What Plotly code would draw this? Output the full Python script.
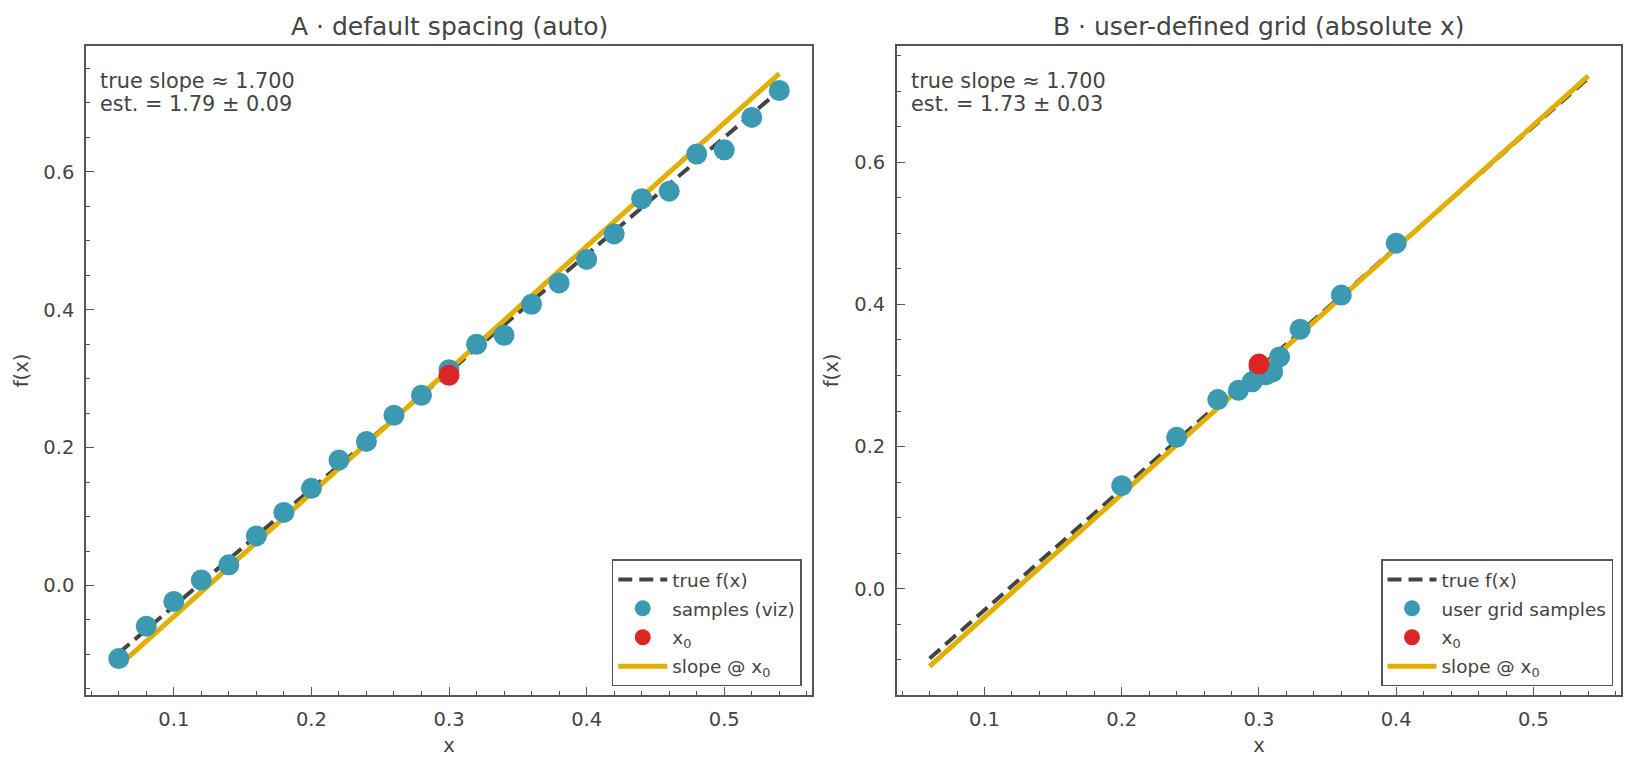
import plotly.graph_objects as go

# ---------------- data ----------------
x_true = [0.06, 0.30, 0.54]
y_true = [-0.098, 0.310, 0.718]

x0 = 0.30

# panel A: default spacing samples
xa = [0.06, 0.08, 0.10, 0.12, 0.14, 0.16, 0.18, 0.20, 0.22, 0.24, 0.26, 0.28, 0.30,
      0.32, 0.34, 0.36, 0.38, 0.40, 0.42, 0.44, 0.46, 0.48, 0.50, 0.52, 0.54]
ya = [-0.106, -0.059, -0.023, 0.008, 0.030, 0.072, 0.106, 0.141, 0.182, 0.209, 0.247, 0.276, 0.313,
      0.350, 0.363, 0.408, 0.439, 0.473, 0.510, 0.561, 0.572, 0.626, 0.632, 0.679, 0.718]
ya_x0 = 0.305
slope_a = 1.79
icpt_a = 0.313

# panel B: user-defined grid samples
xb = [0.20, 0.24, 0.27, 0.285, 0.295, 0.30, 0.305, 0.31, 0.315, 0.33, 0.36, 0.40]
yb = [0.145, 0.213, 0.266, 0.279, 0.291, 0.312, 0.301, 0.305, 0.326, 0.365, 0.413, 0.486]
yb_x0 = 0.316
slope_b = 1.73
icpt_b = 0.306

slope_x = [0.06, 0.54]

titles = ["A · default spacing (auto)", "B · user-defined grid (absolute x)"]
notes_a = ["true slope ≈ 1.700", "est. = 1.79 ± 0.09"]
notes_b = ["true slope ≈ 1.700", "est. = 1.73 ± 0.03"]
sample_names = ["samples (viz)", "user grid samples"]

# ---------------- style ----------------
FONT = "DejaVu Sans"
TXT = "#444444"
SPINE = "#555555"
TEAL = "#3B9AB2"
RED = "#DC2626"
GOLD = "#E1AF00"
DARK = "#444444"

fig = go.Figure()

panels = [
    ("x", "y", "legend", xa, ya, ya_x0, slope_a, icpt_a, sample_names[0]),
    ("x2", "y2", "legend2", xb, yb, yb_x0, slope_b, icpt_b, sample_names[1]),
]

for xr, yr, lg, xs, ys, yx0, sl, ic, sname in panels:
    fig.add_trace(go.Scatter(x=x_true, y=y_true, mode="lines", name="true f(x)",
                             line=dict(color=DARK, width=4, dash="14px,7px"),
                             xaxis=xr, yaxis=yr, legend=lg, legendrank=1,
                             legendgroup=lg + "_true"))
    sy = [ic + sl * (v - x0) for v in slope_x]
    fig.add_trace(go.Scatter(x=slope_x, y=sy, mode="lines", name="slope @ x<sub>0</sub>",
                             line=dict(color=GOLD, width=5),
                             xaxis=xr, yaxis=yr, legend=lg, legendrank=4,
                             legendgroup=lg + "_slope"))
    fig.add_trace(go.Scatter(x=xs, y=ys, mode="markers", name=sname,
                             marker=dict(color=TEAL, size=21, line=dict(width=0)),
                             xaxis=xr, yaxis=yr, legend=lg, legendrank=2,
                             legendgroup=lg + "_samples"))
    fig.add_trace(go.Scatter(x=[x0], y=[yx0], mode="markers", name="x<sub>0</sub>",
                             marker=dict(color=RED, size=21, line=dict(width=0)),
                             xaxis=xr, yaxis=yr, legend=lg, legendrank=3,
                             legendgroup=lg + "_x0"))

TICKFONT = dict(family=FONT, size=19.5, color=TXT)
axis_common = dict(
    showline=True, linecolor=SPINE, linewidth=1.5, mirror=True,
    ticks="inside", ticklen=8, tickwidth=1.3, tickcolor=SPINE,
    showgrid=False, zeroline=False,
    tickfont=TICKFONT,
    ticklabelstandoff=6,
)

xdoms = [[0.0, 0.4730], [0.5283, 1.0]]
yranges = [[-0.1588, 0.7826], [-0.1494, 0.7633]]

for i in range(2):
    sfx = "" if i == 0 else str(i + 1)
    fig.layout["xaxis" + sfx] = dict(
        axis_common, domain=xdoms[i], range=[0.0362, 0.5638],
        dtick=0.1, tick0=0, tickformat=".1f",
        minor=dict(dtick=0.02, tick0=0, ticks="inside", ticklen=4.5, tickcolor=SPINE, tickwidth=1.1),
        title=dict(text="x", font=dict(family=FONT, size=19.5, color=TXT), standoff=8),
        anchor="y" + sfx,
    )
    fig.layout["yaxis" + sfx] = dict(
        axis_common, domain=[0, 1], range=yranges[i],
        dtick=0.2, tick0=0, tickformat=".1f",
        minor=dict(dtick=0.05, tick0=0, ticks="inside", ticklen=4.5, tickcolor=SPINE, tickwidth=1.1),
        title=dict(text="f(x)", font=dict(family=FONT, size=19.5, color=TXT), standoff=10),
        anchor="x" + sfx,
    )

annotations = []
for i, (dom, notes) in enumerate(zip(xdoms, [notes_a, notes_b])):
    xref = "x domain" if i == 0 else "x2 domain"
    yref = "y domain" if i == 0 else "y2 domain"
    annotations.append(dict(text=titles[i], xref="paper", yref="paper",
                            x=(dom[0] + dom[1]) / 2, y=1.0297, xanchor="center", yanchor="middle",
                            showarrow=False, font=dict(family=FONT, size=25, color=TXT)))
    for j, t in enumerate(notes):
        annotations.append(dict(text=t, xref=xref, yref=yref,
                                x=0.017, y=[0.946, 0.911][j], xanchor="left", yanchor="middle",
                                showarrow=False, font=dict(family=FONT, size=20.8, color=TXT)))

legend_common = dict(
    bgcolor="rgba(255,255,255,0.85)", bordercolor=SPINE, borderwidth=1.5,
    font=dict(family=FONT, size=18.4, color=TXT),
    xanchor="right", yanchor="bottom", traceorder="grouped", tracegroupgap=2,
    itemsizing="trace", itemwidth=49,
)

# page body has an 8px margin: shrink the figure so the plot areas land where the reference has them
fig.update_layout(
    width=1629, height=759,
    margin=dict(l=76, r=16, t=38, b=72),
    paper_bgcolor="white", plot_bgcolor="white",
    annotations=annotations,
    legend=dict(legend_common, x=0.4663, y=0.0132),
    legend2=dict(legend_common, x=0.9948, y=0.0132),
    showlegend=True,
)

fig.write_html("out.html")
